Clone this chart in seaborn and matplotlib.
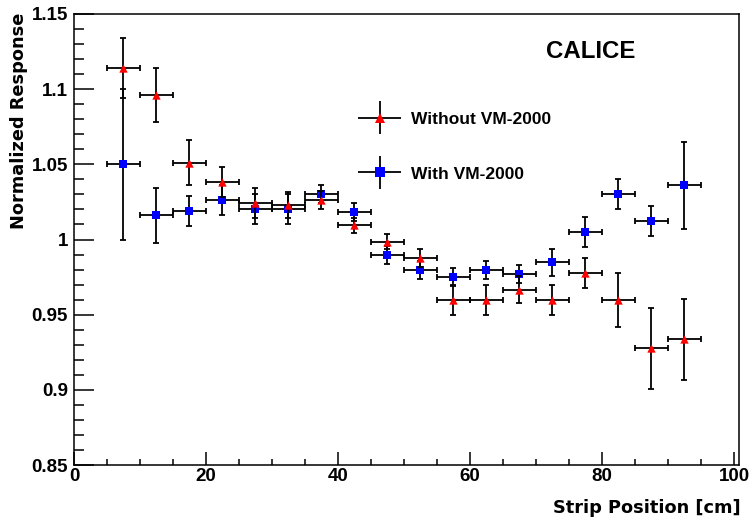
import numpy as np
import pandas as pd
import matplotlib
matplotlib.use("Agg")
import matplotlib.pyplot as plt
import seaborn as sns
from matplotlib.legend_handler import HandlerErrorbar
from matplotlib.container import ErrorbarContainer
from matplotlib.ticker import MultipleLocator, FuncFormatter

# ---- data ----
strip_pos = [7.5, 12.5, 17.5, 22.5, 27.5, 32.5, 37.5, 42.5, 47.5,
             52.5, 57.5, 62.5, 67.5, 72.5, 77.5, 82.5, 87.5, 92.5]
bin_half_width = [2.5] * 18
without_vm = [1.114, 1.096, 1.051, 1.038, 1.024, 1.023, 1.026, 1.0095, 0.9985,
              0.9875, 0.960, 0.960, 0.9665, 0.960, 0.9775, 0.960, 0.9275, 0.9335]
without_err = [0.020, 0.018, 0.015, 0.010, 0.010, 0.0085, 0.006, 0.005, 0.005,
               0.006, 0.010, 0.010, 0.009, 0.010, 0.010, 0.018, 0.027, 0.027]
with_vm = [1.050, 1.016, 1.019, 1.026, 1.020, 1.020, 1.030, 1.018, 0.990,
           0.980, 0.975, 0.980, 0.977, 0.985, 1.005, 1.030, 1.012, 1.036]
with_err = [0.050, 0.018, 0.010, 0.010, 0.010, 0.010, 0.006, 0.006, 0.006,
            0.006, 0.006, 0.006, 0.006, 0.009, 0.010, 0.010, 0.010, 0.029]
labels = ["Without VM-2000", "With VM-2000"]

df_without = pd.DataFrame({"x": strip_pos, "y": without_vm})
df_with = pd.DataFrame({"x": strip_pos, "y": with_vm})

sns.set_style("ticks")
plt.rcParams["font.family"] = ["Liberation Sans", "DejaVu Sans"]
plt.rcParams["font.weight"] = "bold"
for k in ["text.color", "axes.labelcolor", "xtick.color", "ytick.color", "axes.edgecolor"]:
    plt.rcParams[k] = "black"

W, H = 752, 518
fig = plt.figure(figsize=(W / 100, H / 100), dpi=100)
L, R, T, B = 74, 739, 14, 465
ax = fig.add_axes([L / W, 1 - B / H, (R - L) / W, (B - T) / H])

eb_kw = dict(fmt="none", ecolor="black", elinewidth=1.3, capsize=2.2, capthick=1.3)
# blue first, then red
ax.errorbar(strip_pos, with_vm, xerr=bin_half_width, yerr=with_err, zorder=2, **eb_kw)
sns.scatterplot(data=df_with, x="x", y="y", marker="s", color="#0000ff", s=34,
                linewidth=0, ax=ax, zorder=3)
ax.errorbar(strip_pos, without_vm, xerr=bin_half_width, yerr=without_err, zorder=4, **eb_kw)
sns.scatterplot(data=df_without, x="x", y="y", marker="^", color="#ff0000", s=36,
                linewidth=0, ax=ax, zorder=5)

ax.set_xlim(0, 100.76)
ax.set_ylim(0.85, 1.15)
ax.xaxis.set_major_locator(MultipleLocator(20))
ax.xaxis.set_minor_locator(MultipleLocator(5))
ax.yaxis.set_major_locator(MultipleLocator(0.05))
ax.yaxis.set_minor_locator(MultipleLocator(0.01))
ax.yaxis.set_major_formatter(FuncFormatter(lambda v, p: f"{v:g}"))

ax.tick_params(which="both", direction="in", top=False, right=False, width=1.1,
               labelsize=13.5)
ax.tick_params(axis="x", which="major", length=9.1, pad=2.5)
ax.tick_params(axis="x", which="minor", length=4.3)
ax.tick_params(axis="y", which="major", length=14.4, pad=4.3)
ax.tick_params(axis="y", which="minor", length=7.0)
for s in ax.spines.values():
    s.set_visible(True)
    s.set_linewidth(1.1)
    s.set_color("black")

title_font = dict(family="DejaVu Sans", fontsize=12.8, fontweight="bold")
ax.set_xlabel("Strip Position [cm]", loc="right", **title_font)
ax.set_ylabel("Normalized Response", loc="top", **title_font)
ax.xaxis.set_label_coords(1.002, -0.075)
ax.yaxis.set_label_coords(-0.069, 1.002)

ax.text((591 - L) / (R - L), 1 - (58.3 - T) / (B - T), "CALICE", transform=ax.transAxes,
        ha="center", va="baseline", fontsize=17.3, fontweight="bold")

# legend proxies
h_without = ax.errorbar([np.nan], [np.nan], xerr=[1], yerr=[1], fmt="^", color="#ff0000",
                        ecolor="black", ms=6.5, mew=0, capsize=0, elinewidth=1.3)
h_with = ax.errorbar([np.nan], [np.nan], xerr=[1], yerr=[1], fmt="s", color="#0000ff",
                     ecolor="black", ms=6.5, mew=0, capsize=0, elinewidth=1.3)
ax.legend([h_without, h_with], labels,
          handler_map={ErrorbarContainer: HandlerErrorbar(xerr_size=1.24, yerr_size=0.95)},
          frameon=False, loc="center left", bbox_to_anchor=(358 / W, 1 - 146.5 / H),
          bbox_transform=fig.transFigure, prop=dict(weight="bold", size=12.5),
          handlelength=2.48, handletextpad=0.58, labelspacing=2.29, borderpad=0,
          borderaxespad=0)

fig.savefig("out.png", dpi=100, facecolor="white")
